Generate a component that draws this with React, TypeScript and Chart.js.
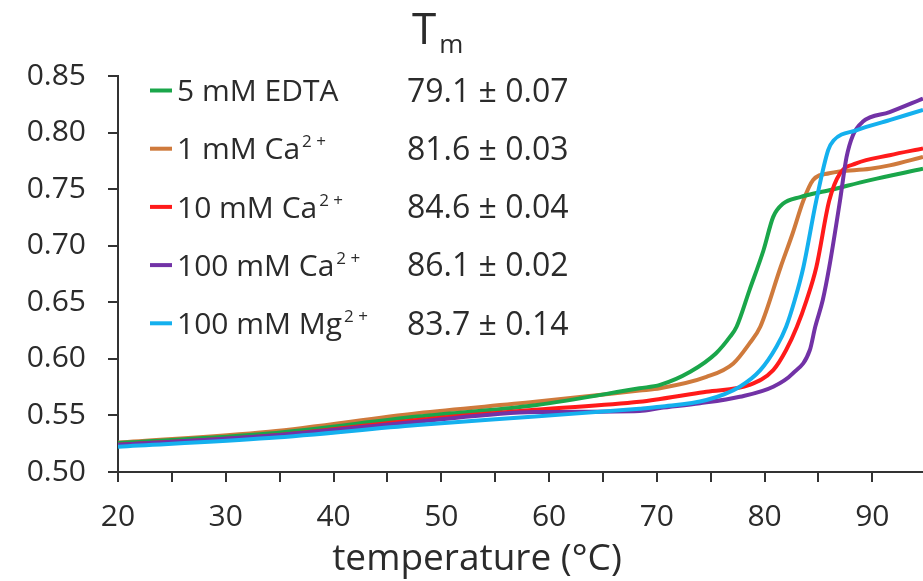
import React, { useEffect, useRef } from "react";
import { Chart, registerables } from "chart.js";

Chart.register(...registerables);

// ---- data ----
const tempEDTA = [20, 34, 47.8, 58.7, 68.4, 70.3, 73.1, 75.5, 76.8, 77.4, 78.6, 79.9, 80.8, 81.7, 83.3, 86.0, 89.8, 94.7];
const absEDTA = [0.5256, 0.534, 0.549, 0.559, 0.574, 0.577, 0.5886, 0.605, 0.6196, 0.6284, 0.6608, 0.696, 0.7255, 0.737, 0.743, 0.749, 0.758, 0.768];

const tempCa1 = [20, 34, 47.8, 58.7, 68.4, 70.3, 74.6, 77.1, 78.6, 79.6, 81.5, 82.6, 83.6, 84.5, 86.0, 89.8, 91.6, 94.7];
const absCa1 = [0.526, 0.5356, 0.552, 0.562, 0.572, 0.574, 0.584, 0.596, 0.6137, 0.6284, 0.6814, 0.7108, 0.74, 0.758, 0.764, 0.768, 0.771, 0.7785];

const tempCa10 = [20, 34, 47.8, 58.7, 68.4, 70.3, 74.6, 78.6, 80.8, 82.0, 83.0, 83.9, 84.8, 86.0, 87.0, 88.5, 91.6, 94.7];
const absCa10 = [0.524, 0.532, 0.546, 0.555, 0.562, 0.5645, 0.571, 0.577, 0.59, 0.6078, 0.6284, 0.652, 0.681, 0.74, 0.764, 0.7727, 0.78, 0.786];

const tempCa100 = [20, 34, 47.8, 58.7, 68.4, 70.3, 74.0, 77.7, 80.8, 82.6, 84.2, 84.7, 85.4, 86.0, 87.0, 87.6, 88.2, 89.1, 91.6, 94.7];
const absCa100 = [0.524, 0.532, 0.5445, 0.553, 0.554, 0.5565, 0.5607, 0.5665, 0.5754, 0.587, 0.6078, 0.6284, 0.652, 0.681, 0.74, 0.778, 0.7977, 0.8095, 0.818, 0.83];

const tempMg100 = [20, 34, 47.8, 58.7, 68.4, 70.3, 74.6, 77.7, 79.6, 81.1, 82.0, 82.8, 83.6, 84.8, 85.9, 86.4, 88.5, 91.6, 94.7];
const absMg100 = [0.5224, 0.53, 0.5415, 0.549, 0.556, 0.5577, 0.5636, 0.5754, 0.59, 0.6107, 0.6284, 0.652, 0.681, 0.74, 0.7845, 0.793, 0.802, 0.811, 0.82];

const seriesLabels = ["5 mM EDTA", "1 mM Ca", "10 mM Ca", "100 mM Ca", "100 mM Mg"];
const seriesSup = ["", "2 +", "2 +", "2 +", "2 +"];
const tmValues = ["79.1 ± 0.07", "81.6 ± 0.03", "84.6 ± 0.04", "86.1 ± 0.02", "83.7 ± 0.14"];
const seriesColors = ["#1aa64a", "#cf7a3c", "#ff1a1a", "#7232a6", "#14b0ee"];

const yTicksMin = 0.5;
const yTicksMax = 0.85;
const xMin = 20;
const xMax = 94.7;

const FONT = '"Open Sans", "DejaVu Sans", sans-serif';
const TEXT = "#2b2b2b";

const pair = (t: number[], v: number[]) => t.map((x, i) => ({ x, y: v[i] }));

const textPlugin = {
  id: "textOverlay",
  afterDraw(chart: any) {
    const ctx = chart.ctx as CanvasRenderingContext2D;
    ctx.save();
    ctx.fillStyle = TEXT;
    ctx.textBaseline = "alphabetic";
    // title T_m
    ctx.textAlign = "left";
    ctx.font = `44px ${FONT}`;
    ctx.fillText("T", 412, 44);
    const wT = ctx.measureText("T").width;
    ctx.font = `26px ${FONT}`;
    ctx.fillText("m", 412 + wT + 3, 53);

    // legend
    const rowY0 = 90.5;
    const rowStep = 58.2;
    for (let i = 0; i < seriesLabels.length; i++) {
      const cy = rowY0 + i * rowStep;
      ctx.strokeStyle = seriesColors[i];
      ctx.lineWidth = 4;
      ctx.beginPath();
      ctx.moveTo(150, cy);
      ctx.lineTo(172, cy);
      ctx.stroke();
      ctx.fillStyle = TEXT;
      ctx.font = `30px ${FONT}`;
      const base = cy + 10.6;
      ctx.fillText(seriesLabels[i], 177, base);
      if (seriesSup[i]) {
        const w = ctx.measureText(seriesLabels[i]).width;
        ctx.font = `17px ${FONT}`;
        ctx.fillText(seriesSup[i], 177 + w + 2, base - 12);
      }
      ctx.font = `32px ${FONT}`;
      ctx.fillText(tmValues[i], 407, cy + 11.3);
    }

    // x axis title
    ctx.textAlign = "center";
    ctx.font = `37px ${FONT}`;
    ctx.fillText("temperature (°C)", 477, 570);
    ctx.restore();
  },
};

export default function App() {
  const ref = useRef<HTMLCanvasElement | null>(null);
  useEffect(() => {
    if (!ref.current) return;
    const mk = (i: number, t: number[], v: number[], order: number) => ({
      label: seriesLabels[i],
      data: pair(t, v),
      borderColor: seriesColors[i],
      backgroundColor: seriesColors[i],
      borderWidth: 4,
      pointRadius: 0,
      cubicInterpolationMode: "monotone" as const,
      fill: false,
      order,
    });
    const chart = new Chart(ref.current, {
      type: "line",
      data: {
        datasets: [
          mk(0, tempEDTA, absEDTA, 3),
          mk(1, tempCa1, absCa1, 4),
          mk(2, tempCa10, absCa10, 2),
          mk(3, tempCa100, absCa100, 1),
          mk(4, tempMg100, absMg100, 0),
        ],
      },
      options: {
        animation: false,
        responsive: false,
        maintainAspectRatio: false,
        layout: { padding: { top: 76, left: 0, right: 0, bottom: 0 } },
        plugins: { legend: { display: false }, tooltip: { enabled: false }, title: { display: false } },
        scales: {
          x: {
            type: "linear",
            min: xMin,
            max: xMax,
            border: { display: true, color: "#333", width: 2 },
            grid: { drawOnChartArea: false, drawTicks: true, tickLength: 10, color: "#333", lineWidth: 2 },
            ticks: {
              stepSize: 5,
              includeBounds: false,
              autoSkip: false,
              maxRotation: 0,
              padding: 17,
              color: TEXT,
              font: { family: FONT, size: 30 },
              callback: (v: any) => (Number(v) % 10 === 0 ? String(v) : ""),
            },
            afterFit: (s: any) => {
              s.height = 109;
            },
          },
          y: {
            type: "linear",
            min: yTicksMin,
            max: yTicksMax,
            border: { display: true, color: "#333", width: 2 },
            grid: { drawOnChartArea: false, drawTicks: true, tickLength: 10, color: "#333", lineWidth: 2 },
            ticks: {
              stepSize: 0.05,
              padding: 22,
              color: TEXT,
              font: { family: FONT, size: 30 },
              callback: (v: any) => Number(v).toFixed(2),
            },
            afterFit: (s: any) => {
              s.width = 118;
            },
          },
        },
      },
      plugins: [textPlugin],
    });
    return () => chart.destroy();
  }, []);
  return (
    <div style={{ position: "fixed", left: 0, top: 0, width: 923, height: 581, background: "#fff" }}>
      <canvas ref={ref} width={923} height={581} style={{ display: "block" }} />
    </div>
  );
}
